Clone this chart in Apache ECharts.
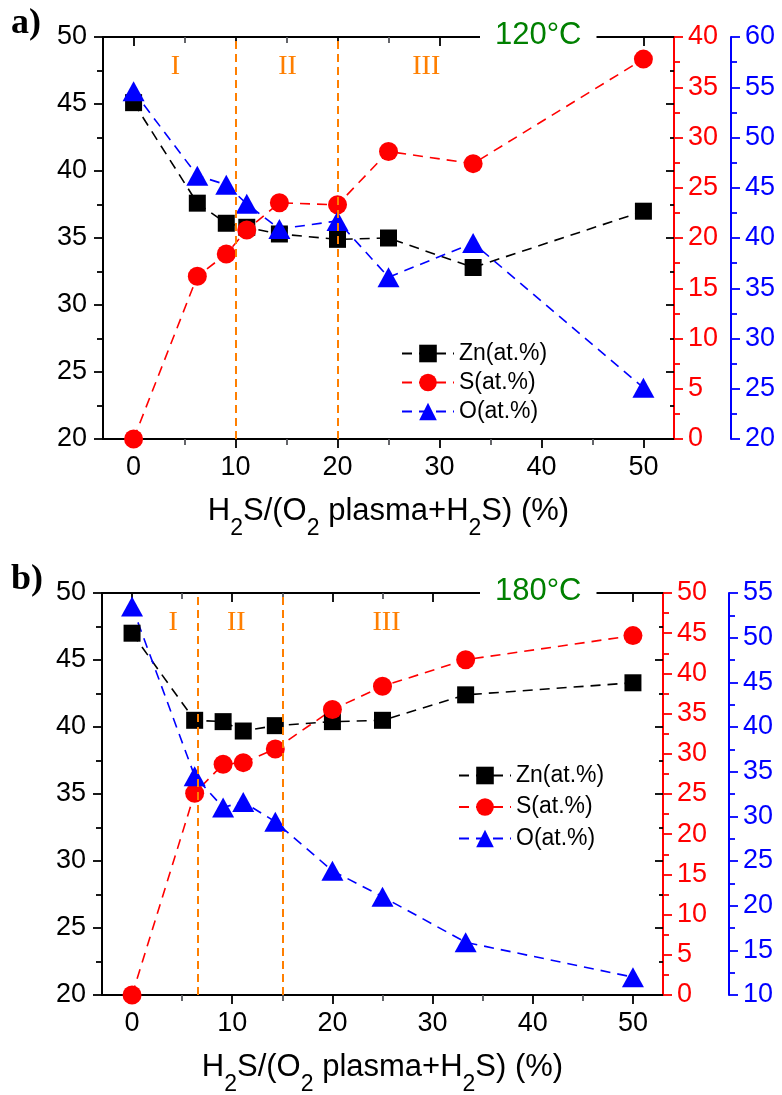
<!DOCTYPE html>
<html><head><meta charset="utf-8">
<script src="https://cdn.jsdelivr.net/npm/echarts@6/dist/echarts.min.js"></script>
<style>html,body{margin:0;padding:0;background:#fff}#c{width:782px;height:1095px}</style>
</head><body><div id="c"></div>
<script>
// ---- data ----
const ratio = [0, 6.25, 9.09, 11.1, 14.3, 20, 25, 33.3, 50];
const seriesNames = ['Zn(at.%)', 'S(at.%)', 'O(at.%)'];
// panel a) 120°C
const znA = [45.1, 37.6, 36.1, 35.8, 35.3, 34.9, 35.0, 32.8, 37.0];
const sA  = [0, 16.2, 18.4, 20.8, 23.5, 23.3, 28.6, 27.4, 37.8];
const oA  = [54.6, 46.2, 45.3, 43.4, 40.9, 41.7, 36.1, 39.5, 25.1];
// panel b) 180°C
const znB = [47.0, 40.5, 40.4, 39.7, 40.1, 40.4, 40.5, 42.4, 43.3];
const sB  = [0, 25.1, 28.7, 28.9, 30.6, 35.5, 38.4, 41.7, 44.7];
const oB  = [53.5, 34.5, 31.0, 31.6, 29.4, 23.9, 21.0, 15.9, 12.0];
// axis ticks
const xTickValues = [0, 10, 20, 30, 40, 50];
const xMinorValues = [5, 15, 25, 35, 45];
// region boundaries and region labels
const boundA = [10, 20];
const boundB = [6.6, 15];
const romanLabels = ['I', 'II', 'III'];
const romanXA = [4.1, 15.1, 28.7];
const romanXB = [4.1, 10.4, 25.4];
const romanY = 47.8;
const tempLabels = ['120°C', '180°C'];
const panelLabels = ['a)', 'b)'];

// ---- styles ----
const F = 'Liberation Sans';
const SERIF = 'Liberation Serif';
const COL = { zn: '#000000', s: '#ff0000', o: '#0000ff', orange: '#ff7f00', green: '#008000' };
const TICK = 27;

const panels = [
  { grid: { left: 103, top: 37, width: 571, height: 402 }, red: [0, 40], blue: [20, 60], blueOffset: 57,
    zn: znA, s: sA, o: oA, bounds: boundA, romanX: romanXA,
    legend: { left: 396, top: 337, itemGap: 6 } },
  { grid: { left: 102, top: 593, width: 561, height: 402 }, red: [0, 50], blue: [10, 55], blueOffset: 66,
    zn: znB, s: sB, o: oB, bounds: boundB, romanX: romanXB,
    legend: { left: 453, top: 759, itemGap: 8.5 } }
];

const option = {
  animation: false,
  backgroundColor: '#fff',
  grid: [], xAxis: [], yAxis: [], series: [], legend: [], title: []
};

const rich = {
  m: { fontFamily: F, fontSize: 31, color: '#000', lineHeight: 31, verticalAlign: 'top' },
  s: { fontFamily: F, fontSize: 23, color: '#000', lineHeight: 23, verticalAlign: 'top', padding: [21, 0, 0, 0] }
};

panels.forEach((p, i) => {
  option.grid.push(Object.assign({ outerBoundsMode: 'none', containLabel: false }, p.grid));
  const xBase = { gridIndex: i, type: 'value', min: -3, max: 53, splitLine: { show: false } };
  const xi = option.xAxis.length;
  // bottom major
  option.xAxis.push(Object.assign({}, xBase, {
    position: 'bottom',
    axisLine: { show: true, onZero: false, lineStyle: { color: '#000', width: 2 } },
    axisTick: { show: true, customValues: xTickValues, length: 9, lineStyle: { width: 1.8 } },
    axisLabel: { show: true, customValues: xTickValues, fontFamily: F, fontSize: TICK, color: '#000', margin: 15 },
    name: '{m|H}{s|2}{m|S/(O}{s|2}{m| plasma+H}{s|2}{m|S) (%)}',
    nameLocation: 'middle', nameGap: 57,
    nameTextStyle: { rich: rich }
  }));
  // bottom minor
  option.xAxis.push(Object.assign({}, xBase, {
    position: 'bottom', axisLine: { show: false },
    axisTick: { show: true, customValues: xMinorValues, length: 6, lineStyle: { width: 1.8 } },
    axisLabel: { show: false }
  }));
  // top major (inside)
  option.xAxis.push(Object.assign({}, xBase, {
    position: 'top',
    axisLine: { show: true, onZero: false, lineStyle: { color: '#000', width: 2 } },
    axisTick: { show: true, inside: true, customValues: xTickValues, length: 9, lineStyle: { width: 1.8 } },
    axisLabel: { show: false }
  }));
  // top minor
  option.xAxis.push(Object.assign({}, xBase, {
    position: 'top', axisLine: { show: false },
    axisTick: { show: true, inside: true, customValues: xMinorValues, length: 6, lineStyle: { width: 1.8 } },
    axisLabel: { show: false }
  }));

  const yi = option.yAxis.length;
  const yAx = (pos, range, color, offset, showLine, showLabel, inside) => ({
    gridIndex: i, type: 'value', position: pos, offset: offset, min: range[0], max: range[1], interval: 5,
    splitLine: { show: false },
    axisLine: { show: showLine, onZero: false, lineStyle: { color: color, width: 2 } },
    axisTick: { show: true, inside: inside, length: inside ? 8 : 9, lineStyle: { color: color, width: 1.8 } },
    minorTick: { show: true, splitNumber: 2, length: inside ? 4 : 6, lineStyle: { color: color, width: 1.8 } },
    axisLabel: { show: showLabel, fontFamily: F, fontSize: TICK, color: color, margin: 14 }
  });
  const left = yAx('left', [20, 50], '#000', 0, true, true, false);
  left.axisLabel.margin = 16;
  option.yAxis.push(left);
  option.yAxis.push(yAx('right', p.red, COL.s, 0, true, true, false));
  option.yAxis.push(yAx('right', p.blue, COL.o, p.blueOffset, true, true, false));
  option.yAxis.push(yAx('right', [20, 50], '#000', 0, false, false, true));

  const mk = (name, data, color, yIdx, symbol, size) => ({
    type: 'line', name: name, xAxisIndex: xi, yAxisIndex: yi + yIdx,
    data: ratio.map((x, k) => [x, data[k]]),
    symbol: symbol, symbolSize: size, showSymbol: true,
    itemStyle: { color: color, borderWidth: 0 },
    lineStyle: { color: color, width: 1.6, type: [10, 7] },
    emphasis: { disabled: true }, z: 2
  });
  const zn = mk(seriesNames[0], p.zn, COL.zn, 0, 'rect', 17);
  const s = mk(seriesNames[1], p.s, COL.s, 1, 'circle', 19);
  const o = mk(seriesNames[2], p.o, COL.o, 2, 'triangle', [22, 20]);
  zn.markLine = {
    silent: true, symbol: ['none', 'none'], label: { show: false },
    lineStyle: { color: COL.orange, width: 2, type: [8, 5] },
    data: p.bounds.map(v => ({ xAxis: v }))
  };
  zn.markPoint = {
    silent: true, symbol: 'circle', symbolSize: 1, itemStyle: { color: 'rgba(0,0,0,0)' },
    label: { show: true, position: 'inside', formatter: '{b}', fontFamily: SERIF, fontSize: 28, color: COL.orange },
    data: romanLabels.map((t, k) => ({ name: t, coord: [p.romanX[k], romanY] }))
  };
  option.series.push(zn, s, o);

  option.legend.push({
    left: p.legend.left, top: p.legend.top, orient: 'vertical', itemGap: p.legend.itemGap,
    itemWidth: 52, itemHeight: 22, selectedMode: false,
    textStyle: { fontFamily: F, fontSize: 23, color: '#000' },
    data: seriesNames
  });

  option.title.push({
    text: tempLabels[i], left: 480, top: p.grid.top - 19,
    backgroundColor: '#fff', padding: [2, 15, 2, 15],
    textStyle: { fontFamily: F, fontSize: 31, fontWeight: 'normal', color: COL.green }
  });
  option.title.push({
    text: panelLabels[i], left: 11, top: p.grid.top - 31, padding: 0,
    textStyle: { fontFamily: SERIF, fontSize: 36, fontWeight: 'bold', color: '#000' }
  });
});

const chart = echarts.init(document.getElementById('c'), null, { renderer: 'canvas' });
chart.setOption(option);
</script></body></html>
